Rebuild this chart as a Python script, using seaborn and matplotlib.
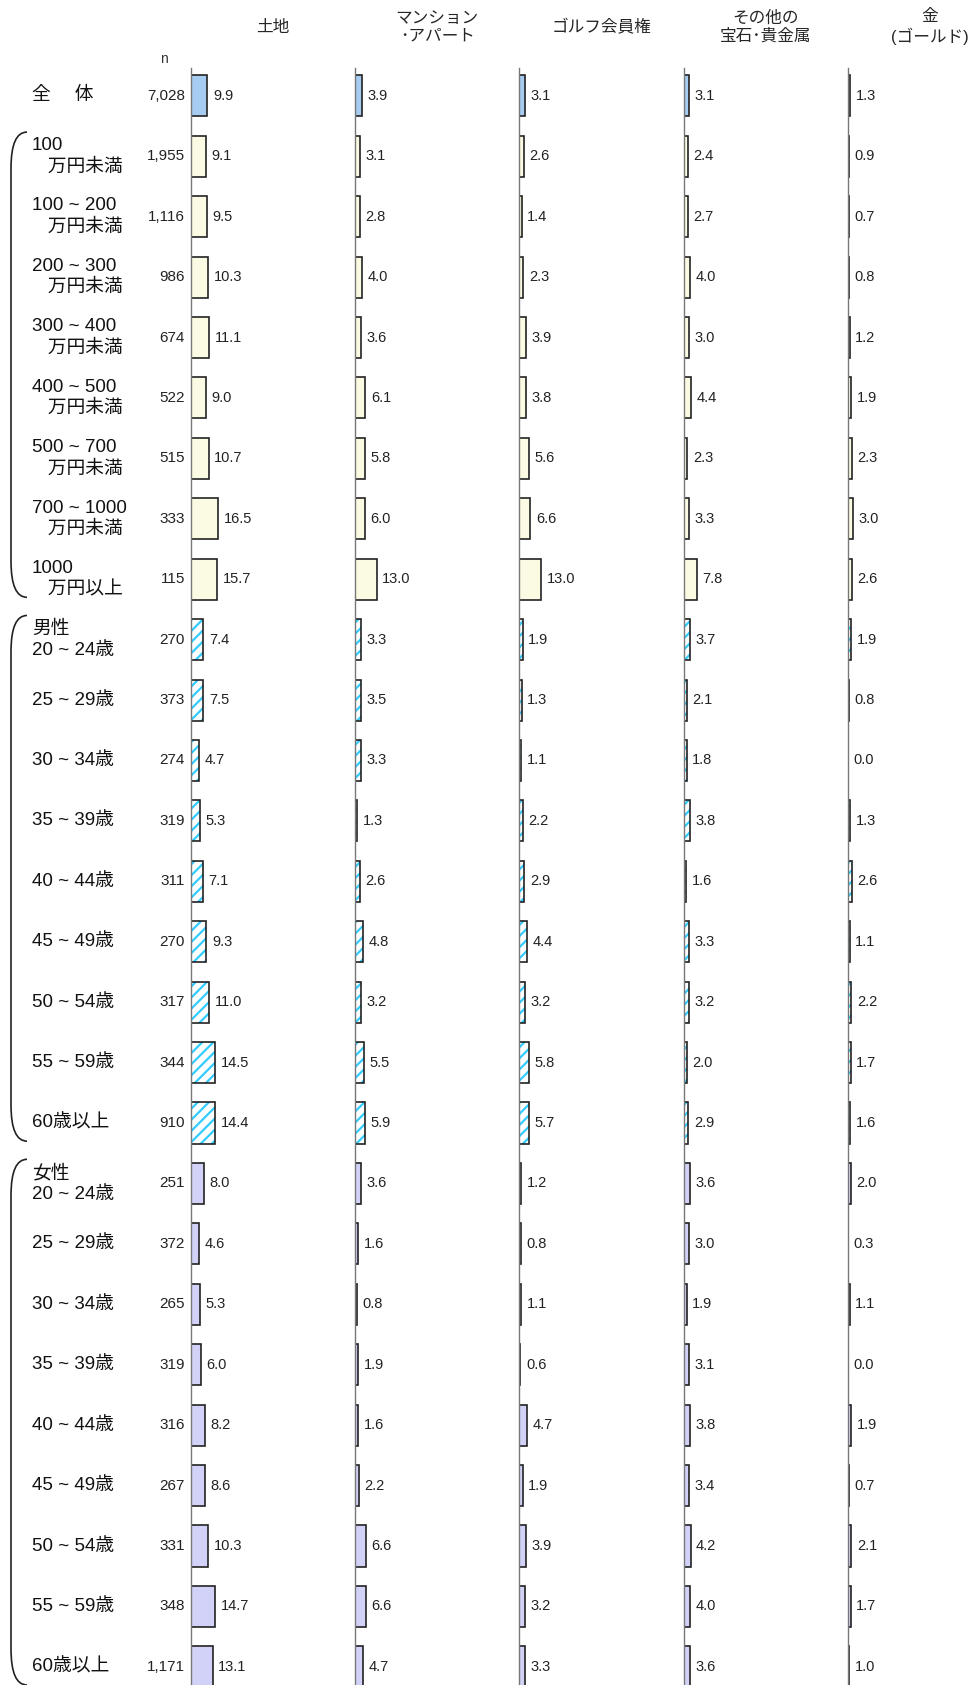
import matplotlib
matplotlib.use('Agg')

import matplotlib.pyplot as plt
import matplotlib.transforms as mtransforms
from matplotlib.path import Path
from matplotlib.patches import PathPatch, Rectangle
import seaborn as sns
import pandas as pd

# ---- data ----
row_labels = [
    '全　 体',
    '100\n   万円未満', '100 ~ 200\n   万円未満', '200 ~ 300\n   万円未満',
    '300 ~ 400\n   万円未満', '400 ~ 500\n   万円未満', '500 ~ 700\n   万円未満',
    '700 ~ 1000\n   万円未満', '1000\n   万円以上',
    '男性\n20 ~ 24歳', '25 ~ 29歳', '30 ~ 34歳', '35 ~ 39歳', '40 ~ 44歳',
    '45 ~ 49歳', '50 ~ 54歳', '55 ~ 59歳', '60歳以上',
    '女性\n20 ~ 24歳', '25 ~ 29歳', '30 ~ 34歳', '35 ~ 39歳', '40 ~ 44歳',
    '45 ~ 49歳', '50 ~ 54歳', '55 ~ 59歳', '60歳以上',
]
groups = ['total'] + ['income'] * 8 + ['male'] * 9 + ['female'] * 9
n_counts = ['7,028', '1,955', '1,116', '986', '674', '522', '515', '333', '115',
            '270', '373', '274', '319', '311', '270', '317', '344', '910',
            '251', '372', '265', '319', '316', '267', '331', '348', '1,171']

land = [9.9, 9.1, 9.5, 10.3, 11.1, 9.0, 10.7, 16.5, 15.7,
        7.4, 7.5, 4.7, 5.3, 7.1, 9.3, 11.0, 14.5, 14.4,
        8.0, 4.6, 5.3, 6.0, 8.2, 8.6, 10.3, 14.7, 13.1]
mansion = [3.9, 3.1, 2.8, 4.0, 3.6, 6.1, 5.8, 6.0, 13.0,
           3.3, 3.5, 3.3, 1.3, 2.6, 4.8, 3.2, 5.5, 5.9,
           3.6, 1.6, 0.8, 1.9, 1.6, 2.2, 6.6, 6.6, 4.7]
golf = [3.1, 2.6, 1.4, 2.3, 3.9, 3.8, 5.6, 6.6, 13.0,
        1.9, 1.3, 1.1, 2.2, 2.9, 4.4, 3.2, 5.8, 5.7,
        1.2, 0.8, 1.1, 0.6, 4.7, 1.9, 3.9, 3.2, 3.3]
jewel = [3.1, 2.4, 2.7, 4.0, 3.0, 4.4, 2.3, 3.3, 7.8,
         3.7, 2.1, 1.8, 3.8, 1.6, 3.3, 3.2, 2.0, 2.9,
         3.6, 3.0, 1.9, 3.1, 3.8, 3.4, 4.2, 4.0, 3.6]
gold = [1.3, 0.9, 0.7, 0.8, 1.2, 1.9, 2.3, 3.0, 2.6,
        1.9, 0.8, 0.0, 1.3, 2.6, 1.1, 2.2, 1.7, 1.6,
        2.0, 0.3, 1.1, 0.0, 1.9, 0.7, 2.1, 1.7, 1.0]

col_titles = ['土地', 'マンション\n･アパート', 'ゴルフ会員権', 'その他の\n宝石･貴金属', '金\n(ゴールド)']
col_values = [land, mansion, golf, jewel, gold]

fill_colors = {'total': '#99CCFF', 'income': '#FFFFE0', 'male': '#FFFFFF', 'female': '#CCCCFF'}
hatch_color = '#33CCFF'
edge = '#222222'

sns.set_style('white')
plt.rcParams['font.family'] = ['Liberation Sans', 'Noto Sans CJK JP']
plt.rcParams['hatch.linewidth'] = 1.6

W, H = 970, 1685
fig = plt.figure(figsize=(W / 100, H / 100), dpi=100)

col_left = 191
col_step = 164.2
col_w = 164
axes_top = 68
n_rows = len(row_labels)

axes = []
for k, (title, vals) in enumerate(zip(col_titles, col_values)):
    x0 = col_left + k * col_step
    ax = fig.add_axes([x0 / W, 0, col_w / W, (H - axes_top) / H])
    df = pd.DataFrame({'row': range(n_rows), 'value': vals, 'group': groups})
    sns.barplot(data=df, x='value', y='row', hue='group', palette=fill_colors,
                orient='h', dodge=False, width=0.68, edgecolor=edge,
                linewidth=1.2, legend=False, ax=ax)

    # male bars: cyan diagonal hatch inside a dark outline
    for p in list(ax.patches):
        r = int(round(p.get_y() + p.get_height() / 2))
        if groups[r] == 'male':
            p.set_hatch('///')
            p.set_edgecolor(hatch_color)
            p.set_linewidth(0)
            ax.add_patch(Rectangle(p.get_xy(), p.get_width(), p.get_height(),
                                   fill=False, edgecolor=edge, linewidth=1.2))

    for i, v in enumerate(vals):
        ax.annotate(f'{v:.1f}', xy=(v, i), xytext=(4, 0), textcoords='offset points',
                    va='center', ha='left', fontsize=10.5, color='#222222')

    ax.set_xlim(0, 99)
    ax.set_ylim(n_rows - 0.7, -0.46)
    ax.set_xlabel('')
    ax.set_ylabel('')
    ax.set_xticks([])
    ax.set_yticks([])
    for s in ['top', 'right', 'bottom']:
        ax.spines[s].set_visible(False)
    ax.spines['left'].set_color('#777777')
    ax.spines['left'].set_linewidth(1.0)
    ax.patch.set_alpha(0)

    ax.annotate(title, xy=(0.5, 1), xycoords='axes fraction', xytext=(0, 29.5),
                textcoords='offset points', ha='center', va='center',
                fontsize=12, linespacing=1.2, annotation_clip=False)
    axes.append(ax)

ax0 = axes[0]
trans = mtransforms.blended_transform_factory(fig.transFigure, ax0.transData)

# row labels and n
for i, (lab, n) in enumerate(zip(row_labels, n_counts)):
    fig.text(32 / W, i, lab, transform=trans, ha='left', va='center',
             fontsize=13.5, linespacing=1.3, color='#111111')
    fig.text(185 / W, i, n, transform=trans, ha='right', va='center',
             fontsize=11, color='#222222')

fig.text(164 / W, 1 - 59 / H, 'n', ha='center', va='center', fontsize=10, color='#333333')

# group brackets on the left
def bracket(first, last):
    top, bot = first - 0.4, last + 0.3
    xr, xl = 27 / W, 11 / W
    verts = [(xr, top), (xl, top), (xl, top + 0.6),
             (xl, bot - 0.6), (xl, bot), (xr, bot)]
    codes = [Path.MOVETO, Path.CURVE3, Path.CURVE3,
             Path.LINETO, Path.CURVE3, Path.CURVE3]
    pp = PathPatch(Path(verts, codes), transform=trans, fill=False,
                   edgecolor='#222222', linewidth=1.2, clip_on=False)
    fig.add_artist(pp)

bracket(1, 8)
bracket(9, 17)
bracket(18, 26)

fig.savefig('out.png', dpi=100)
